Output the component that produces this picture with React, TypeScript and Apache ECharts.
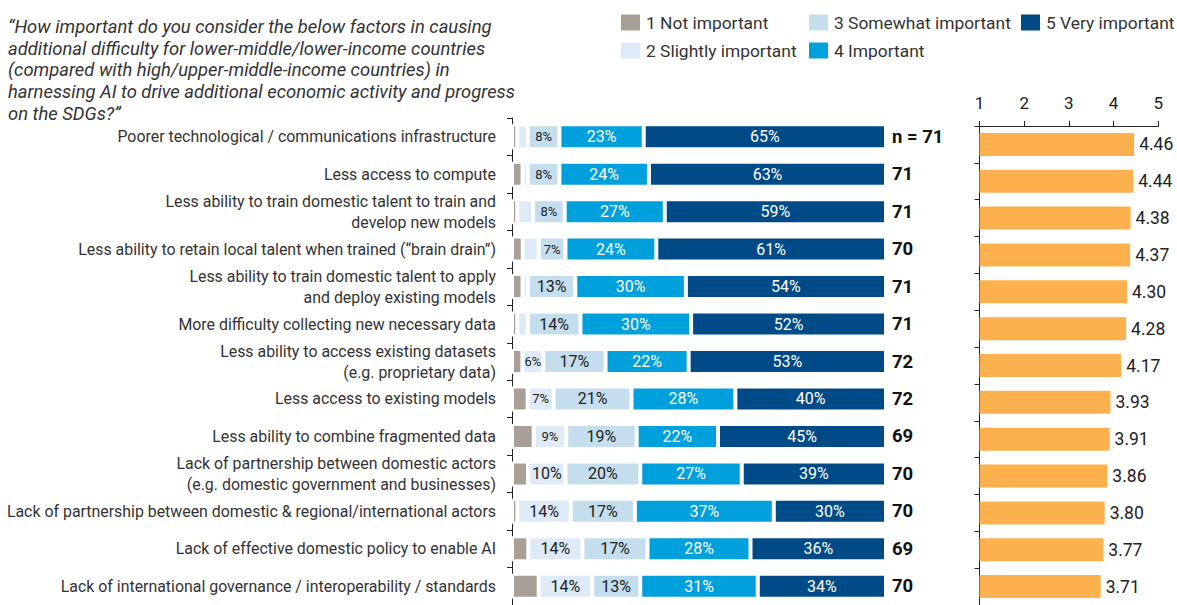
import React, { useEffect, useRef } from "react";
import * as echarts from "echarts";

const titleText =
  "\u201cHow important do you consider the below factors in causing\nadditional difficulty for lower-middle/lower-income countries\n(compared with high/upper-middle-income countries) in\nharnessing AI to drive additional economic activity and progress\non the SDGs?\u201d";

const categories = [
  "Poorer technological / communications infrastructure",
  "Less access to compute",
  "Less ability to train domestic talent to train and\ndevelop new models",
  "Less ability to retain local talent when trained (\u201cbrain drain\u201d)",
  "Less ability to train domestic talent to apply\nand deploy existing models",
  "More difficulty collecting new necessary data",
  "Less ability to access existing datasets\n(e.g. proprietary data)",
  "Less access to existing models",
  "Less ability to combine fragmented data",
  "Lack of partnership between domestic actors\n(e.g. domestic government and businesses)",
  "Lack of partnership between domestic & regional/international actors",
  "Lack of effective domestic policy to enable AI",
  "Lack of international governance / interoperability / standards",
];

const seriesNames = [
  "1 Not important",
  "2 Slightly important",
  "3 Somewhat important",
  "4 Important",
  "5 Very important",
];

const notImportant = [1.41, 2.82, 1.41, 2.86, 2.82, 1.41, 2.78, 4.17, 5.8, 4.29, 1.43, 4.35, 7.14];
const slightlyImportant = [2.82, 1.41, 4.23, 4.29, 1.41, 2.82, 5.56, 6.94, 8.7, 10.0, 14.29, 14.49, 14.29];
const somewhatImportant = [8.45, 8.45, 8.45, 7.14, 12.68, 14.08, 16.67, 20.83, 18.84, 20.0, 17.14, 17.39, 12.86];
const important = [22.54, 23.94, 26.76, 24.29, 29.58, 29.58, 22.22, 27.78, 21.74, 27.14, 37.14, 27.54, 31.43];
const veryImportant = [64.79, 63.38, 59.15, 61.43, 53.52, 52.11, 52.78, 40.28, 44.93, 38.57, 30.0, 36.23, 34.29];
const respondents = [71, 71, 71, 70, 71, 71, 72, 72, 69, 70, 70, 69, 70];
const meanScores = [4.46, 4.44, 4.38, 4.37, 4.3, 4.28, 4.17, 3.93, 3.91, 3.86, 3.8, 3.77, 3.71];

const colors = ["#A89F97", "#DEEAF5", "#C4DEEE", "#00A0DC", "#004B87"];
const labelColors = ["#222", "#222", "#222", "#fff", "#fff"];
const meanColor = "#FDB14E";

export default function App() {
  const ref = useRef<HTMLDivElement>(null);
  useEffect(() => {
    if (!ref.current) return;
    const chart = echarts.init(ref.current, undefined, { renderer: "svg" });
    const stacks = [notImportant, slightlyImportant, somewhatImportant, important, veryImportant];

    const barSeries = stacks.map((arr, si) => ({
      name: seriesNames[si],
      type: "bar",
      stack: "total",
      xAxisIndex: 0,
      yAxisIndex: 0,
      barWidth: 25,
      data: arr.map((v) => ({
        value: v,
        label: {
          show: si > 0 && v >= 5,
          fontSize: v < 9.5 ? 13 : 16,
        },
      })),
      itemStyle: { color: colors[si], borderColor: "#fff", borderWidth: 2 },
      label: {
        position: "inside",
        color: labelColors[si],
        fontFamily: "Roboto",
        formatter: (p: any) => Math.round(p.value) + "%",
      },
    }));

    const legends = [
      { name: seriesNames[0], left: 619, top: 12.5 },
      { name: seriesNames[1], left: 619, top: 40.5 },
      { name: seriesNames[2], left: 807, top: 12.5 },
      { name: seriesNames[3], left: 807, top: 40.5 },
      { name: seriesNames[4], left: 1019, top: 12.5 },
    ].map((l) => ({
      data: [l.name],
      left: l.left,
      top: l.top,
      padding: 0,
      itemWidth: 21,
      itemHeight: 18,
      itemGap: 6,
      icon: "rect",
      selectedMode: false,
      textStyle: { fontSize: 17.4, color: "#333", fontFamily: "Roboto" },
    }));

    const option: any = {
      animation: false,
      textStyle: { fontFamily: "Roboto" },
      legend: legends,
      graphic: [
        {
          type: "text",
          left: 8,
          top: 15.5,
          style: {
            text: titleText,
            font: "italic 18.4px Roboto",
            lineHeight: 21.75,
            fill: "#333",
          },
        },
      ],
      grid: [
        { left: 512, right: 291, top: 118, height: 490.75, containLabel: false },
        { left: 979.5, right: 18.7, top: 126, height: 482.3, containLabel: false },
      ],
      xAxis: [
        { gridIndex: 0, type: "value", min: 0, max: 100, show: false },
        {
          gridIndex: 1,
          type: "value",
          min: 1,
          max: 5,
          interval: 1,
          position: "top",
          axisLine: { show: true, lineStyle: { color: "#222", width: 1 } },
          axisTick: { show: true, length: 5, lineStyle: { color: "#222" } },
          axisLabel: { fontSize: 17, color: "#222", margin: 15 },
          splitLine: { show: false },
        },
      ],
      yAxis: [
        {
          gridIndex: 0,
          type: "category",
          inverse: true,
          data: categories,
          axisLine: { show: true, lineStyle: { color: "#222" } },
          axisTick: { show: true, length: 5, lineStyle: { color: "#222" } },
          axisLabel: {
            fontSize: 15.9,
            color: "#333",
            margin: 16,
            lineHeight: 21,
            align: "right",
          },
        },
        {
          gridIndex: 0,
          type: "category",
          inverse: true,
          position: "right",
          data: respondents.map((n, i) => (i === 0 ? "n = " + n : String(n))),
          axisLine: { show: false },
          axisTick: { show: false },
          axisLabel: {
            fontSize: 18.5,
            fontWeight: "bold",
            color: "#111",
            margin: 6,
            align: "left",
          },
        },
        {
          gridIndex: 1,
          type: "category",
          inverse: true,
          data: categories,
          axisLine: { show: true, lineStyle: { color: "#222" } },
          axisTick: { show: true, length: 5, lineStyle: { color: "#222" } },
          axisLabel: { show: false },
        },
      ],
      series: [
        ...barSeries,
        {
          name: "Mean",
          type: "bar",
          xAxisIndex: 1,
          yAxisIndex: 2,
          barWidth: 23,
          data: meanScores,
          itemStyle: { color: meanColor },
          label: {
            show: true,
            position: "right",
            distance: 5,
            fontSize: 17.5,
            color: "#222",
            formatter: (p: any) => p.value.toFixed(2),
          },
        },
      ],
    };
    chart.setOption(option);
    return () => chart.dispose();
  }, []);
  return (
    <div
      ref={ref}
      style={{ position: "fixed", left: 0, top: 0, width: 1177, height: 605, background: "#fff" }}
    />
  );
}
